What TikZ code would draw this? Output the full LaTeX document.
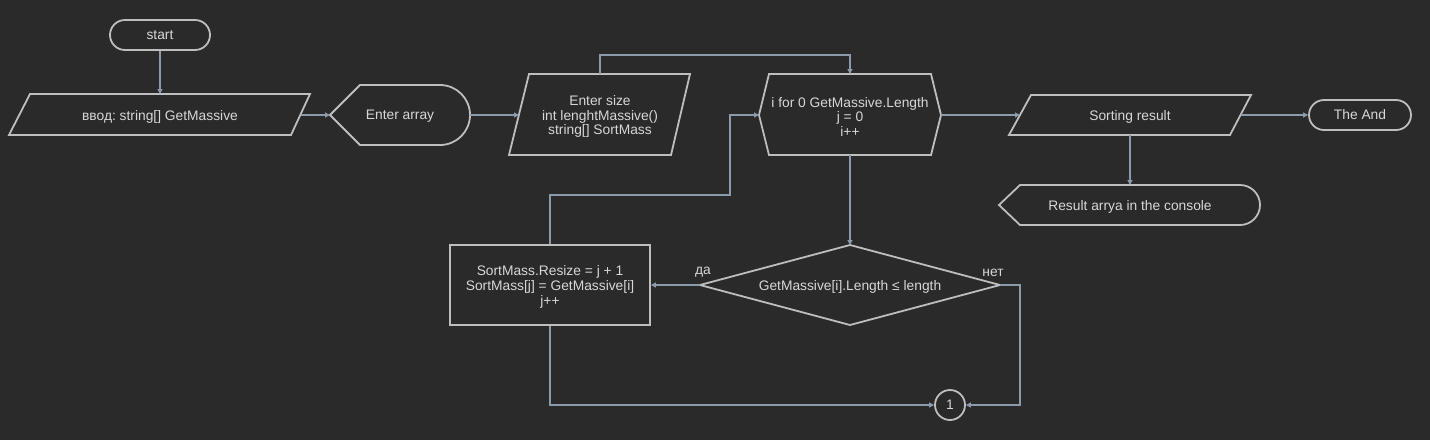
\documentclass[tikz,border=0pt]{standalone}
\usepackage{fontspec}
\setmainfont{Liberation Sans}
\usetikzlibrary{arrows.meta}
\definecolor{bg}{RGB}{42,42,42}
\definecolor{shp}{RGB}{190,190,190}
\definecolor{con}{RGB}{140,155,172}
\definecolor{txt}{RGB}{215,215,215}
\frenchspacing
\begin{document}
\begin{tikzpicture}[x=1pt,y=-1pt,
  outline/.style={draw=shp, line width=1.8pt, line join=miter},
  lbl/.style={text=txt, font=\fontsize{13.8}{14.5}\selectfont, align=center, inner sep=0pt},
  tlbl/.style={lbl, yshift=-1.5pt},
  term/.style={lbl, draw=shp, line width=1.8pt, rounded corners=15pt, minimum height=30pt},
  conn/.style={draw=con, line width=1.3pt, -{Triangle[length=5pt,width=5pt]}},
]
\fill[bg] (0,0) rectangle (1430,440);
\useasboundingbox (0,0) rectangle (1430,440);

% shapes
\node[term, minimum width=100pt] (start) at (160,35) {start};
\draw[outline] (30,94) -- (310,94) -- (291,135) -- (9,135) -- cycle;
\node[tlbl] (input) at (160,115) {ввод: string[] GetMassive};

\draw[outline] (330,115) -- (360,85) -- (440,85) arc[start angle=90, end angle=-90, radius=30pt] -- (360,145) -- cycle;
\node[tlbl] (enterarr) at (400,115) {Enter array};

\draw[outline] (529,74) -- (690,74) -- (671,155) -- (509,155) -- cycle;
\node[tlbl] (entersize) at (600,115) {Enter size\\int lenghtMassive()\\string[] SortMass};

\draw[outline] (759,115) -- (769,74) -- (931,74) -- (941,115) -- (931,155) -- (769,155) -- cycle;
\node[tlbl] (loop) at (850,115) {i for 0 GetMassive.Length\\j = 0\\i++};

\draw[outline] (1031,95) -- (1251,95) -- (1230,135) -- (1009,135) -- cycle;
\node[tlbl] (sortres) at (1130,115) {Sorting result};

\node[term, minimum width=102pt] (theend) at (1360,115) {The And};

\draw[outline] (999,205) -- (1020,185) -- (1240,185) arc[start angle=90, end angle=-90, radius=20pt] -- (1020,225) -- cycle;
\node[tlbl] (resout) at (1130,205) {Result arrya in the console};

\draw[outline] (850,245) -- (1000,285) -- (850,325) -- (700,285) -- cycle;
\node[tlbl] (cond) at (850,285) {GetMassive[i].Length ≤ length};

\node[draw=shp, line width=1.8pt, minimum width=200pt, minimum height=80pt, inner sep=0pt] (body) at (550,285) {};
\node[tlbl, font=\fontsize{13.8}{15}\selectfont] (bodytxt) at (550,285) {SortMass.Resize = j + 1\\SortMass[j] = GetMassive[i]\\j++};

\node[lbl, draw=shp, line width=1.8pt, circle, minimum size=30pt] (conn1) at (950,405) {1};

\node[tlbl] (yes) at (703,271) {да};
\node[tlbl] (no) at (993,271) {нет};

% ports
\coordinate (inputN) at (160,94);
\coordinate (inputE) at (300.5,115);
\coordinate (enterarrW) at (330,115);
\coordinate (enterarrE) at (470,115);
\coordinate (entersizeW) at (519,115);
\coordinate (entersizeN) at (600,74);
\coordinate (loopN) at (850,74);
\coordinate (loopW) at (759,115);
\coordinate (loopE) at (941,115);
\coordinate (loopS) at (850,155);
\coordinate (sortresW) at (1020,115);
\coordinate (sortresE) at (1240.5,115);
\coordinate (sortresS) at (1130,135);
\coordinate (resoutN) at (1130,185);
\coordinate (condN) at (850,245);
\coordinate (condW) at (700,285);
\coordinate (condE) at (1000,285);

% connectors
\draw[conn] (start.south) -- (inputN);
\draw[conn] (inputE) -- (enterarrW);
\draw[conn] (enterarrE) -- (entersizeW);
\draw[conn] (entersizeN) -- (600,55) -- (850,55) -- (loopN);
\draw[conn] (loopE) -- (sortresW);
\draw[conn] (sortresE) -- (theend.west);
\draw[conn] (sortresS) -- (resoutN);
\draw[conn] (loopS) -- (condN);
\draw[conn] (condW) -- (body.east);
\draw[conn] (condE) -- (1020,285) -- (1020,405) -- (conn1.east);
\draw[conn] (body.south) -- (550,405) -- (conn1.west);
\draw[conn] (body.north) -- (550,195) -- (730,195) -- (730,115) -- (loopW);
\end{tikzpicture}
\end{document}
